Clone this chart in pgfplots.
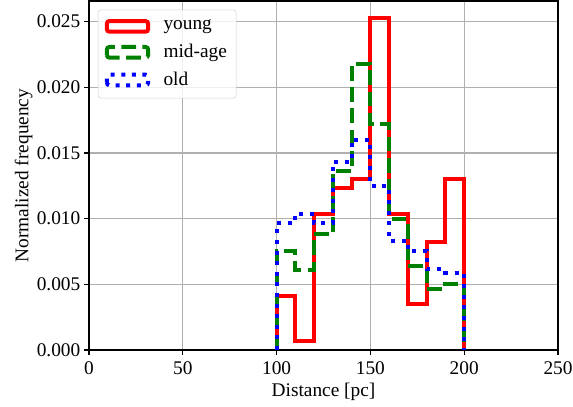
\documentclass[border=0pt]{standalone}
\usepackage{pgfplots}
\pgfplotsset{compat=1.18}
\usepackage{fontspec}
\setmainfont{Liberation Serif}

\definecolor{mplgreen}{rgb}{0,0.5,0}
\definecolor{gridgray}{HTML}{B0B0B0}

\begin{document}
\fontsize{14.5}{17}\selectfont
\begin{tikzpicture}
\begin{axis}[
  name=main,
  scale only axis,
  width=351.75pt, height=261.75pt,
  xmin=0, xmax=250, ymin=0, ymax=0.02657,
  xtick={0,50,100,150,200,250},
  ytick={0,0.005,0.010,0.015,0.020,0.025},
  yticklabel style={xshift=2pt, /pgf/number format/.cd, fixed, fixed zerofill, precision=3},
  /pgf/number format/assume math mode=true,
  ticklabel style={font=\fontsize{14.5}{17}\selectfont},
  label style={font=\fontsize{14.5}{17}\selectfont},
  scaled y ticks=false,
  tick align=outside,
  xtick pos=bottom, ytick pos=left,
  major tick length=3.5pt,
  tick style={black, line width=0.8pt},
  axis line style={black, line width=0.8pt},
  grid=major,
  major grid style={gridgray, line width=0.8pt},
  xlabel={Distance [pc]},
  ylabel={Normalized frequency},
  every axis x label/.style={at={(axis description cs:0.5,0)}, anchor=base, yshift=-35pt},
  every axis y label/.style={at={(axis description cs:0,0.5)}, xshift=-45.5pt, rotate=90, anchor=base},
  legend cell align=left,
  legend style={at={(0.019,0.975)}, anchor=north west,
    draw=gray!35, rounded corners=2pt, fill=white, fill opacity=0.8,
    text opacity=1, inner xsep=5pt, inner ysep=5.5pt,
    row sep=4.5pt, font=\fontsize{14.5}{17}\selectfont,
    /tikz/every odd column/.append style={column sep=8pt}},
  legend image code/.code={\draw[#1] (0pt,-4pt) rectangle (31pt,4pt);},
]
% young
\addplot[const plot, red, line width=3pt] coordinates {
  (100,0) (100,0.00414) (110,0.00072) (120,0.01035) (130,0.01231)
  (140,0.01301) (150,0.02528) (160,0.01035) (170,0.00350)
  (180,0.00820) (190,0.01301) (200,0.01301) (200,0)
};
\addlegendentry{young}
% mid-age
\addplot[const plot, mplgreen, line width=3pt, dash pattern=on 11.1pt off 4.8pt] coordinates {
  (100,0) (100,0.00750) (110,0.00608) (120,0.00881) (130,0.01362)
  (140,0.02179) (150,0.01718) (160,0.00998) (170,0.00641)
  (180,0.00464) (190,0.00502) (200,0.00502) (200,0)
};
\addlegendentry{mid-age}
% old
\addplot[const plot, blue, line width=3pt, dash pattern=on 3pt off 4.95pt] coordinates {
  (100,0) (100,0.00965) (110,0.01038) (120,0.00965) (130,0.01433)
  (140,0.01602) (150,0.01250) (160,0.00833) (170,0.00750)
  (180,0.00616) (190,0.00590) (200,0.00590) (200,0)
};
\addlegendentry{old}
\end{axis}
% fixed page margins around the axis box
\pgfresetboundingbox
\path ([shift={(-66.75pt,-42pt)}]main.south west) rectangle ([shift={(11.25pt,0.75pt)}]main.north east);
\end{tikzpicture}
\end{document}
